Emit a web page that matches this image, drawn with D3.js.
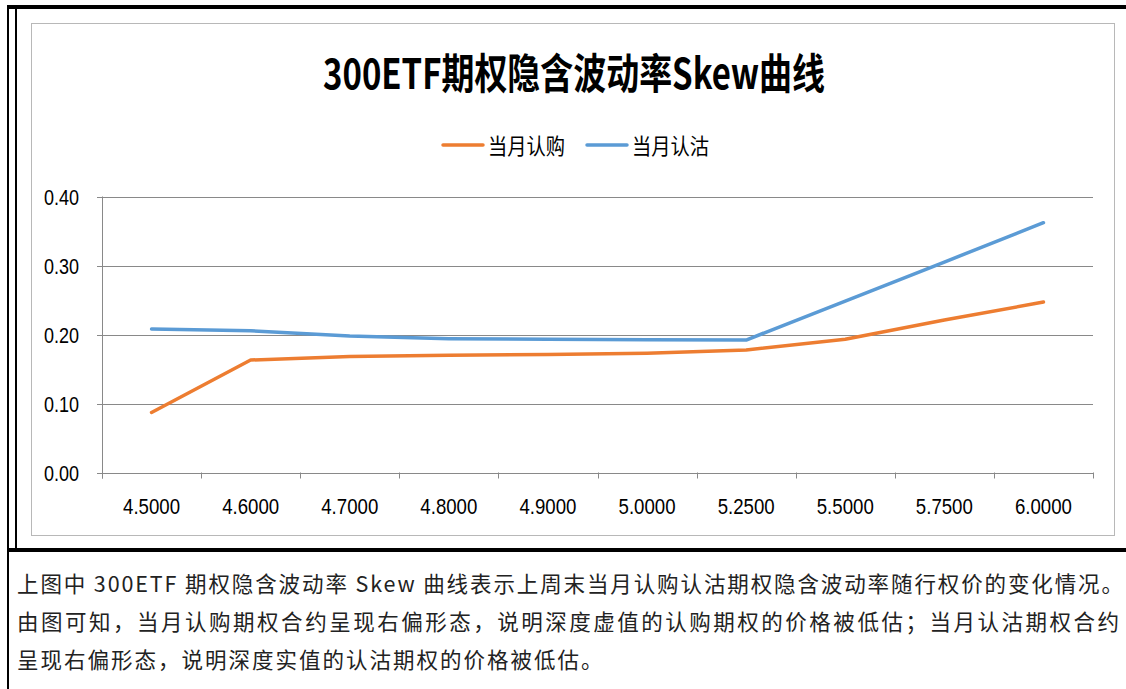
<!DOCTYPE html>
<html>
<head>
<meta charset="utf-8">
<script src="https://cdn.jsdelivr.net/npm/d3@7"></script>
<style>
  html, body { margin: 0; padding: 0; background: #fff; }
  svg { display: block; }
</style>
</head>
<body>
<div id="chart"></div>
<script>
// strike prices (categories)
const strikes = ["4.5000", "4.6000", "4.7000", "4.8000", "4.9000", "5.0000", "5.2500", "5.5000", "5.7500", "6.0000"];
// implied volatility
const callVol = [0.087, 0.163, 0.168, 0.170, 0.171, 0.173, 0.1775, 0.193, 0.221, 0.247];
const putVol = [0.208, 0.2055, 0.198, 0.194, 0.193, 0.1925, 0.192, 0.2485, 0.305, 0.362];
const yTicks = [0, 0.1, 0.2, 0.3, 0.4];
const seriesNames = ["当月认购", "当月认沽"];
const colors = ["#ED7D31", "#5B9BD5"];
const titleText = "300ETF期权隐含波动率Skew曲线";
const noteLines = [
    "上图中 300ETF 期权隐含波动率 Skew 曲线表示上周末当月认购认沽期权隐含波动率随行权价的变化情况。",
    "由图可知，当月认购期权合约呈现右偏形态，说明深度虚值的认购期权的价格被低估；当月认沽期权合约",
    "呈现右偏形态，说明深度实值的认沽期权的价格被低估。"
];

const width = 1126;
const height = 689;
const plot = { left: 102, right: 1093, top: 196.5, bottom: 472.5 };

const svg = d3.select("#chart").append("svg")
    .attr("width", width)
    .attr("height", height);

// table borders
svg.append("rect").attr("x", 7).attr("y", 5).attr("width", width - 7).attr("height", 4).attr("fill", "#000");
svg.append("rect").attr("x", 7).attr("y", 5).attr("width", 2).attr("height", height - 5).attr("fill", "#000");
svg.append("rect").attr("x", 15).attr("y", 5).attr("width", 2).attr("height", 545).attr("fill", "#000");
svg.append("rect").attr("x", 7).attr("y", 548).attr("width", width - 7).attr("height", 4).attr("fill", "#000");

// chart frame
svg.append("rect")
    .attr("x", 31.5).attr("y", 23.5)
    .attr("width", 1083).attr("height", 512)
    .attr("fill", "#fff")
    .attr("stroke", "#b8b8b8");

// title
svg.append("text")
    .attr("x", 574).attr("y", 89)
    .attr("text-anchor", "middle")
    .attr("font-family", "'Noto Sans CJK SC', sans-serif")
    .attr("font-weight", "bold")
    .attr("font-size", 42)
    .attr("textLength", 502)
    .attr("lengthAdjust", "spacingAndGlyphs")
    .attr("fill", "#000")
    .text(titleText);

// legend
const legendX = [443, 587];
seriesNames.forEach((name, i) => {
    svg.append("line")
        .attr("x1", legendX[i]).attr("x2", legendX[i] + 40)
        .attr("y1", 145).attr("y2", 145)
        .attr("stroke", colors[i])
        .attr("stroke-width", 3.5)
        .attr("stroke-linecap", "round");
    svg.append("text")
        .attr("x", legendX[i] + 45).attr("y", 154)
        .attr("font-family", "'Noto Sans CJK SC', sans-serif")
        .attr("font-size", 22)
        .attr("textLength", 77)
        .attr("lengthAdjust", "spacingAndGlyphs")
        .attr("fill", "#000")
        .text(name);
});

const x = d3.scaleBand().domain(strikes).range([plot.left, plot.right]).padding(0);
const y = d3.scaleLinear().domain([0, 0.4]).range([plot.bottom, plot.top]);

// gridlines (with outside tick)
svg.append("g").selectAll("line")
    .data(yTicks)
    .enter().append("line")
    .attr("x1", plot.left - 5).attr("x2", plot.right)
    .attr("y1", d => Math.round(y(d)) + 0.5)
    .attr("y2", d => Math.round(y(d)) + 0.5)
    .attr("stroke", "#898989")
    .attr("stroke-width", 1);

// y axis line
svg.append("line")
    .attr("x1", plot.left + 0.5).attr("x2", plot.left + 0.5)
    .attr("y1", plot.top).attr("y2", plot.bottom + 6)
    .attr("stroke", "#898989");

// x ticks between categories
const tickPos = strikes.map(d => x(d)).concat([x.range()[1]]);
svg.append("g").selectAll("line")
    .data(tickPos)
    .enter().append("line")
    .attr("x1", d => Math.round(d) + 0.5).attr("x2", d => Math.round(d) + 0.5)
    .attr("y1", plot.bottom).attr("y2", plot.bottom + 6)
    .attr("stroke", "#898989");

// y labels
svg.append("g").selectAll("text")
    .data(yTicks)
    .enter().append("text")
    .attr("x", 79)
    .attr("y", d => y(d) + 8)
    .attr("text-anchor", "end")
    .attr("font-family", "'Liberation Sans', Arial, sans-serif")
    .attr("font-size", 22)
    .attr("textLength", 35)
    .attr("lengthAdjust", "spacingAndGlyphs")
    .attr("fill", "#000")
    .text(d3.format(".2f"));

// x labels
svg.append("g").selectAll("text")
    .data(strikes)
    .enter().append("text")
    .attr("x", d => x(d) + x.bandwidth() / 2)
    .attr("y", 513.5)
    .attr("text-anchor", "middle")
    .attr("font-family", "'Liberation Sans', Arial, sans-serif")
    .attr("font-size", 22)
    .attr("textLength", 57)
    .attr("lengthAdjust", "spacingAndGlyphs")
    .attr("fill", "#000")
    .text(d => d);

// series lines
const line = d3.line()
    .x((d, i) => x(strikes[i]) + x.bandwidth() / 2)
    .y(d => y(d));

[callVol, putVol].forEach((vals, i) => {
    svg.append("path")
        .datum(vals)
        .attr("d", line)
        .attr("fill", "none")
        .attr("stroke", colors[i])
        .attr("stroke-width", 3.5)
        .attr("stroke-linejoin", "round")
        .attr("stroke-linecap", "round");
});

// note text under the chart
const noteY = [592, 630, 668];
noteLines.forEach((t, i) => {
    const txt = svg.append("text")
        .attr("x", 17).attr("y", noteY[i])
        .attr("font-family", "'Noto Sans CJK SC', sans-serif")
        .attr("font-size", 21.5)
        .attr("fill", "#222")
        .text(t);
    if (i < 2) {
        txt.attr("textLength", i === 0 ? 1106 : 1102).attr("lengthAdjust", "spacing");
    } else {
        txt.attr("letter-spacing", 2);
    }
});
</script>
</body>
</html>
